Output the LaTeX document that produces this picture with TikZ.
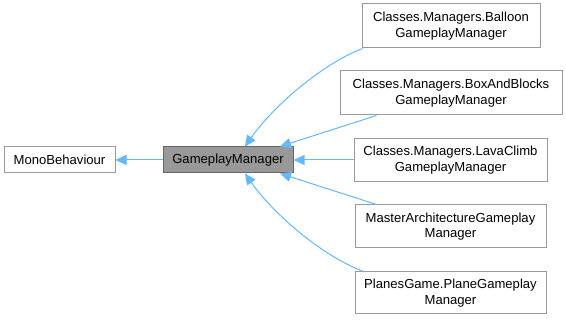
\documentclass[tikz,border=0pt]{standalone}
\usepackage{fontspec}
\setmainfont{Liberation Sans}
\usetikzlibrary{arrows.meta,positioning}
\definecolor{edgeblue}{RGB}{99,184,255}
\definecolor{classgrey}{RGB}{153,153,153}
\definecolor{classborder}{RGB}{102,102,102}

\begin{document}
\begin{tikzpicture}[x=1pt,y=1pt,
  classbox/.style={draw=classgrey,fill=white,line width=1pt,align=center,
    inner sep=0pt,font=\fontsize{13.1}{15.5}\selectfont},
  mainbox/.style={classbox,draw=classborder,fill=classgrey},
  inherit/.style={draw=edgeblue,line width=1pt,-{Triangle[length=11pt,width=10pt]}}]
\useasboundingbox (0,0) rectangle (566,320);

% base classes
\node[classbox,minimum width=111pt,minimum height=26pt] (mono) at (59.5,160) {MonoBehaviour};
\node[mainbox,minimum width=130pt,minimum height=26pt] (gm) at (228,160) {GameplayManager};

% derived managers
\node[classbox,minimum width=178pt,minimum height=44pt] (balloon) at (451,294)
  {Classes.Managers.Balloon\\GameplayManager};
\node[classbox,minimum width=222pt,minimum height=44pt] (boxblocks) at (451,227)
  {Classes.Managers.BoxAndBlocks\\GameplayManager};
\node[classbox,minimum width=193pt,minimum height=43pt] (lava) at (450.5,160)
  {Classes.Managers.LavaClimb\\GameplayManager};
\node[classbox,minimum width=191pt,minimum height=43pt] (master) at (450.5,93.5)
  {MasterArchitectureGameplay\\Manager};
\node[classbox,minimum width=191pt,minimum height=42pt] (planes) at (450.5,27)
  {PlanesGame.PlaneGameplay\\Manager};

% inheritance edges
\draw[inherit] (gm) -- (mono);
\draw[inherit] ([xshift=1pt]balloon.south west) .. controls (320,255) and (272,212) .. ([xshift=17pt]gm.north);
\draw[inherit] ([xshift=37pt]boxblocks.south west) -- ([xshift=52pt]gm.north);
\draw[inherit] (lava.west) -- (gm.east);
\draw[inherit] ([xshift=22pt]master.north west) -- ([xshift=52pt]gm.south);
\draw[inherit] ([xshift=9pt]planes.north west) .. controls (320,65) and (272,108) .. ([xshift=17pt]gm.south);
\end{tikzpicture}
\end{document}
